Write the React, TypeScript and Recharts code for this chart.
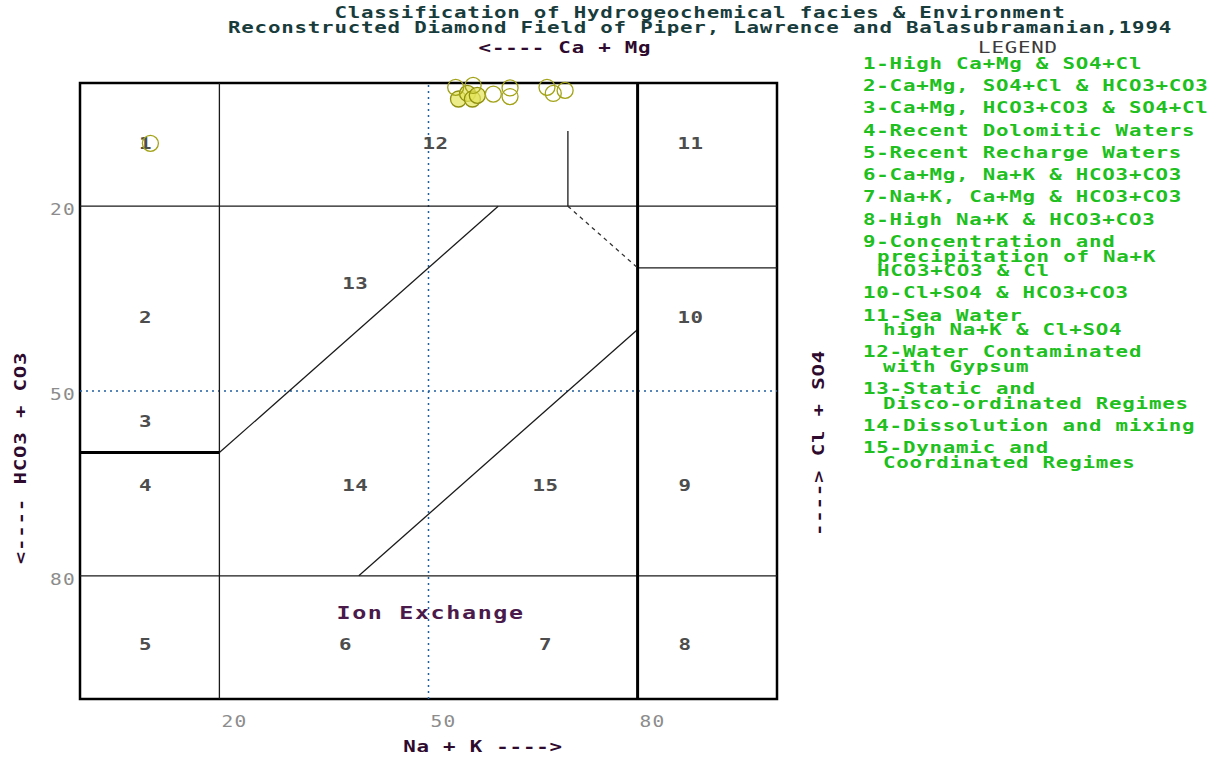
import { ScatterChart, Scatter, XAxis, YAxis, ReferenceLine, ReferenceArea } from 'recharts'

const FONT = '"DejaVu Sans Mono", "Liberation Mono", monospace'

// axis ticks (percent)
const xTicks = [20, 50, 80]
const yTicks = [20, 50, 80]

// samples: x = Na+K %, y = HCO3+CO3 % (0 at top)
const openSamples = [
  { x: 53.9, y: 0.7 }, { x: 56.4, y: 0.4 }, { x: 59.3, y: 1.8 }, { x: 61.7, y: 0.8 },
  { x: 61.7, y: 2.2 }, { x: 67.0, y: 0.7 }, { x: 67.9, y: 1.7 }, { x: 69.6, y: 1.2 },
  { x: 10.1, y: 9.8 },
]
const filledSamples = [
  { x: 54.3, y: 2.6 }, { x: 55.6, y: 1.7 }, { x: 56.3, y: 2.6 }, { x: 57.0, y: 2.0 },
]

// field numbers, placed at the centre of each field
const zoneLabels = [
  { x: 9.4, y: 9.8, text: '1' }, { x: 51, y: 9.8, text: '12' }, { x: 87.6, y: 9.8, text: '11' },
  { x: 9.4, y: 38.1, text: '2' }, { x: 39.5, y: 32.5, text: '13' }, { x: 87.6, y: 38.1, text: '10' },
  { x: 9.4, y: 55, text: '3' }, { x: 9.4, y: 65.4, text: '4' }, { x: 39.5, y: 65.4, text: '14' },
  { x: 66.8, y: 65.4, text: '15' }, { x: 86.8, y: 65.4, text: '9' }, { x: 9.4, y: 91.1, text: '5' },
  { x: 38.1, y: 91.1, text: '6' }, { x: 66.8, y: 91.1, text: '7' }, { x: 86.8, y: 91.1, text: '8' },
]
const notes = [{ x: 50.3, y: 86, text: 'Ion Exchange' }]

// field boundaries
const thinSegments = [
  [{ x: 20, y: 0 }, { x: 20, y: 100 }],
  [{ x: 0, y: 20 }, { x: 100, y: 20 }],
  [{ x: 0, y: 80 }, { x: 100, y: 80 }],
  [{ x: 20, y: 60 }, { x: 60, y: 20 }],
  [{ x: 40, y: 80 }, { x: 80, y: 40 }],
  [{ x: 70, y: 7.8 }, { x: 70, y: 20 }],
  [{ x: 80, y: 30 }, { x: 100, y: 30 }],
]
const thickSegments = [
  [{ x: 80, y: 0 }, { x: 80, y: 100 }],
  [{ x: 0, y: 60 }, { x: 20, y: 60 }],
]
const dashedSegments = [
  [{ x: 70, y: 20 }, { x: 80, y: 30 }],
]

const legendItems = [
  ['1-High Ca+Mg & SO4+Cl'],
  ['2-Ca+Mg, SO4+Cl & HCO3+CO3'],
  ['3-Ca+Mg, HCO3+CO3 & SO4+Cl'],
  ['4-Recent Dolomitic Waters'],
  ['5-Recent Recharge Waters'],
  ['6-Ca+Mg, Na+K & HCO3+CO3'],
  ['7-Na+K, Ca+Mg & HCO3+CO3'],
  ['8-High Na+K & HCO3+CO3'],
  ['9-Concentration and', 'precipitation of Na+K', 'HCO3+CO3 & Cl'],
  ['10-Cl+SO4 & HCO3+CO3'],
  ['11-Sea Water', 'high Na+K & Cl+SO4'],
  ['12-Water Contaminated', 'with Gypsum'],
  ['13-Static and', 'Disco-ordinated Regimes'],
  ['14-Dissolution and mixing'],
  ['15-Dynamic and', 'Coordinated Regimes'],
]

function Mono({ x, y, text, size = 16, adv = 13.3, sx = 1.3, color = '#000', anchor = 'start', rotate = 0, weight = 'bold' }: any) {
  const ls = adv / sx - 0.602 * size
  return (
    <text
      transform={`translate(${x},${y}) rotate(${rotate}) scale(${sx},1)`}
      fontFamily={FONT} fontSize={size} fontWeight={weight} fill={color}
      letterSpacing={ls} textAnchor={anchor} dominantBaseline="central"
    >
      {text}
    </text>
  )
}

const renderXTick = (p: any) => (
  <Mono key={`xt${p.payload.value}`} x={p.x + 2} y={p.y + 23} text={String(p.payload.value)} size={15} adv={13} color="#8c8c8c" weight="normal" />
)
const renderYTick = (p: any) => (
  <Mono key={`yt${p.payload.value}`} x={p.x - 4} y={p.y + 4} text={String(p.payload.value)} size={15} adv={13} color="#8c8c8c" weight="normal" anchor="end" />
)

const Ring = ({ cx, cy }: any) => (
  <circle cx={cx} cy={cy} r={8} fill="none" stroke="#a3a318" strokeWidth={1.3} />
)
const FilledRing = ({ cx, cy }: any) => (
  <circle cx={cx} cy={cy} r={8} fill="#e4e45a" fillOpacity={0.7} stroke="#8f8f10" strokeWidth={1.3} />
)
const ZoneText = ({ cx, cy, payload }: any) => (
  <Mono x={cx} y={cy} text={payload.text} size={16} adv={13} color="#4d4d4d" anchor="middle" />
)
const NoteText = ({ cx, cy, payload }: any) => (
  <Mono x={cx} y={cy} text={payload.text} size={18} adv={15.7} sx={1.3} color="#4a1a4a" anchor="middle" />
)

function Overlay() {
  let y = 63
  const rows: any[] = []
  legendItems.forEach((lines, i) => {
    lines.forEach((line, j) => {
      const indent = j === 0 ? 0 : i < 9 ? 14 : 20
      rows.push(<Mono key={`${i}-${j}`} x={863 + indent} y={y} text={line} color="#20bf20" />)
      if (j < lines.length - 1) y += 14.5
    })
    y += 22.3
  })
  return (
    <svg width={1216} height={759} style={{ position: 'absolute', left: 0, top: 0, pointerEvents: 'none' }}>
      <Mono x={700} y={12} text="Classification of Hydrogeochemical facies & Environment" color="#183c3c" anchor="middle" />
      <Mono x={700} y={27} text="Reconstructed Diamond Field of Piper, Lawrence and Balasubramanian,1994" color="#183c3c" anchor="middle" />
      <Mono x={565} y={47} text="<---- Ca + Mg" color="#2e0a2e" anchor="middle" />
      <Mono x={483} y={746} text="Na + K ---->" color="#2e0a2e" anchor="middle" />
      <Mono x={20} y={458} text="<---- HCO3 + CO3" color="#2e0a2e" anchor="middle" rotate={-90} />
      <Mono x={818} y={443} text="----> Cl + SO4" color="#2e0a2e" anchor="middle" rotate={-90} />
      <Mono x={1018} y={47} text="LEGEND" color="#3c3c3c" anchor="middle" weight="normal" />
      {rows}
    </svg>
  )
}

export default function App() {
  return (
    <div style={{ position: 'absolute', left: 0, top: 0, width: 1216, height: 759, background: '#fff' }}>
      <ScatterChart width={1216} height={759} margin={{ top: 83, left: 0, right: 439, bottom: 0 }}>
        <XAxis type="number" dataKey="x" domain={[0, 100]} ticks={xTicks} height={60}
          axisLine={false} tickLine={false} tickSize={0} tickMargin={0} tick={renderXTick} interval={0} />
        <YAxis type="number" dataKey="y" domain={[0, 100]} ticks={yTicks} width={80} reversed
          axisLine={false} tickLine={false} tickSize={0} tickMargin={0} tick={renderYTick} interval={0} />
        <ReferenceLine x={50} stroke="#1f5fa0" strokeWidth={1.5} strokeDasharray="2 4" />
        <ReferenceLine y={50} stroke="#1f5fa0" strokeWidth={1.5} strokeDasharray="2 4" />
        {thinSegments.map((s, i) => (
          <ReferenceLine key={`t${i}`} segment={s} stroke="#1a1a1a" strokeWidth={1.3} />
        ))}
        {thickSegments.map((s, i) => (
          <ReferenceLine key={`k${i}`} segment={s} stroke="#000" strokeWidth={3} />
        ))}
        {dashedSegments.map((s, i) => (
          <ReferenceLine key={`d${i}`} segment={s} stroke="#333" strokeWidth={1.3} strokeDasharray="4 4" />
        ))}
        <ReferenceArea x1={0} x2={100} y1={0} y2={100} fill="none" fillOpacity={0} stroke="#000" strokeWidth={2.5} />
        <Scatter data={zoneLabels} shape={<ZoneText />} isAnimationActive={false} />
        <Scatter data={notes} shape={<NoteText />} isAnimationActive={false} />
        <Scatter data={filledSamples} shape={<FilledRing />} isAnimationActive={false} />
        <Scatter data={openSamples} shape={<Ring />} isAnimationActive={false} />
      </ScatterChart>
      <Overlay />
    </div>
  )
}
